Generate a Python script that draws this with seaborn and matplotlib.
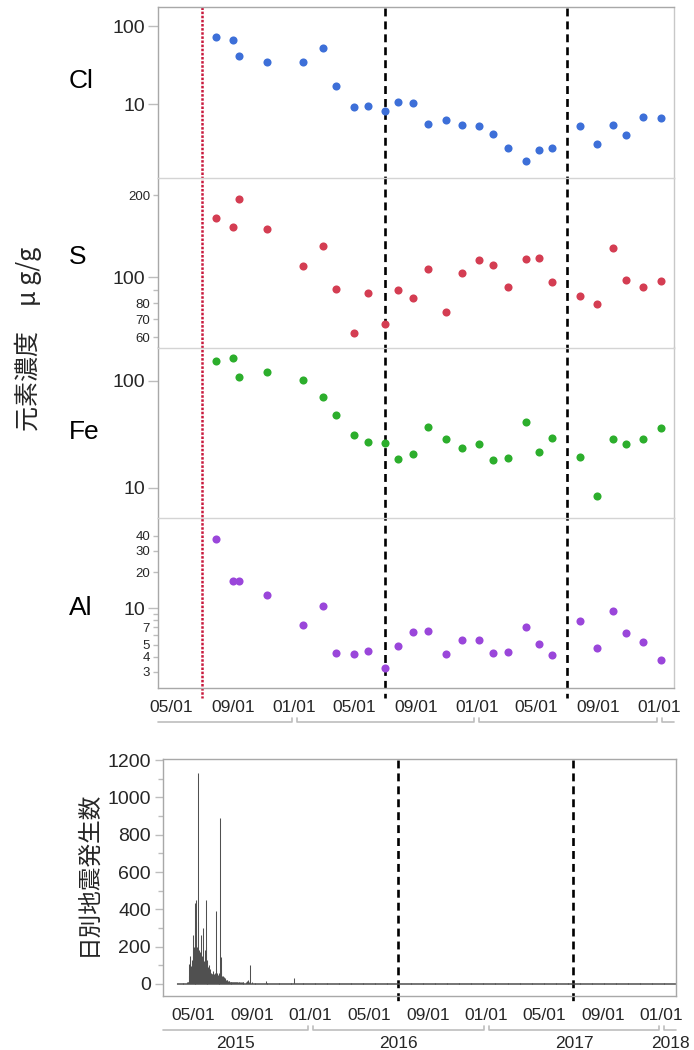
import matplotlib
matplotlib.use("Agg")
import matplotlib.pyplot as plt
import matplotlib.dates as mdates
import matplotlib.ticker as mticker
from matplotlib.lines import Line2D
from matplotlib.transforms import blended_transform_factory
import pandas as pd
import seaborn as sns

# ---------------------------------------------------------------
# Data
# ---------------------------------------------------------------
sample_dates = [
    "2015-07-28", "2015-08-31", "2015-09-12", "2015-11-08", "2016-01-19",
    "2016-02-29", "2016-03-26", "2016-04-30", "2016-05-28", "2016-07-01",
    "2016-07-28", "2016-08-26", "2016-09-25", "2016-11-01", "2016-12-02",
    "2017-01-05", "2017-02-03", "2017-03-04", "2017-04-09", "2017-05-05",
    "2017-06-01", "2017-07-27", "2017-08-29", "2017-09-30", "2017-10-26",
    "2017-11-29", "2018-01-04",
]
cl = [73, 66.7, 42, 34.3, 35.2, 51.8, 17, 9.1, 9.5, 8.3, 10.6, 10.5, 5.66,
      6.37, 5.5, 5.27, 4.12, 2.78, 1.90, 2.57, 2.73, 5.33, 3.1, 5.39, 4.04,
      6.95, 6.67]
s = [165, 153, 194, 151, 110, 130, 90.5, 62, 87.3, 67.2, 90, 83.8, 107.5,
     74.5, 103.8, 115.6, 110.8, 91.6, 116.3, 117.4, 95.6, 85, 79.4, 127.8,
     97.5, 91.8, 97]
fe = [153, 163, 109, 119, 101, 70.7, 47.7, 31.2, 27, 26, 18.4, 20.6, 37.2,
      28.6, 23.7, 25.5, 18.1, 19.2, 40.7, 21.6, 29.4, 19.4, 8.5, 28.8, 25.8,
      28.6, 36.3]
al = [37.4, 17, 17, 13, 7.26, 10.4, 4.3, 4.19, 4.47, 3.24, 4.85, 6.4, 6.5,
      4.22, 5.44, 5.44, 4.27, 4.36, 7.08, 5.04, 4.11, 7.9, 4.67, 9.57, 6.27,
      5.31, 3.78]

# daily earthquake counts during the 2015 swarm, starting 2015-03-28
swarm_start = "2015-03-28"
swarm_counts = [
    # Mar 28-31
    2, 3, 2, 3,
    # Apr 1-30
    3, 2, 4, 3, 2, 5, 3, 4, 2, 3, 4, 3, 5, 4, 3, 6, 4, 5, 8, 10,
    8, 40, 105, 148, 70, 95, 60, 130, 110, 262,
    # May 1-31
    180, 150, 200, 431, 300, 160, 449, 250, 180, 200, 1130, 333, 180, 150,
    170, 130, 262, 120, 140, 150, 110, 300, 120, 100, 90, 180, 449, 200,
    130, 100, 120,
    # Jun 1-30
    90, 80, 70, 100, 60, 80, 50, 60, 55, 50, 70, 60, 50, 45, 55, 60, 80,
    390, 60, 50, 45, 40, 45, 50, 60, 70, 890, 145, 75, 40,
    # Jul 1-31
    30, 40, 25, 35, 20, 30, 25, 20, 15, 18, 20, 15, 12, 15, 14, 12, 10, 12,
    10, 11, 10, 9, 8, 10, 8, 9, 8, 7, 8, 9, 7,
    # Aug 1-31
    8, 7, 6, 8, 7, 6, 12, 8, 6, 7, 5, 6, 7, 8, 6, 5, 6, 5, 7, 6, 8, 15, 20,
    12, 8, 6, 5, 100, 5, 6, 5,
    # Sep 1-15
    8, 6, 5, 4, 5, 6, 4, 5, 4, 5, 4, 3, 5, 4, 4,
]
# typical daily count per month after the swarm (2015-09-16 .. 2018-01-31)
quiet_months = pd.period_range("2015-09", "2018-01", freq="M").astype(str).tolist()
quiet_level = [5, 5, 4, 4, 5, 4, 4, 4, 3, 4, 3, 3, 3, 3, 3, 4, 4, 4, 5, 5,
               4, 3, 3, 3, 3, 3, 3, 3, 3]
quake_spike_dates = ["2015-09-30", "2015-11-28"]
quake_spike_counts = [15, 30]

event_dates = ["2016-07-01", "2017-07-01"]
eruption_date = "2015-07-01"

# ---------------------------------------------------------------
# Build tables
# ---------------------------------------------------------------
samples = pd.DataFrame({"date": pd.to_datetime(sample_dates),
                        "Cl": cl, "S": s, "Fe": fe, "Al": al})

days = pd.date_range(swarm_start, periods=len(swarm_counts), freq="D")
quake = pd.Series(swarm_counts, index=days, dtype=float)
for m, lvl in zip(quiet_months, quiet_level):
    rng = pd.date_range(pd.Period(m).start_time, pd.Period(m).end_time.normalize(), freq="D")
    rng = rng[rng > quake.index.max()]
    quake = pd.concat([quake, pd.Series(float(lvl), index=rng)])
for d, c in zip(quake_spike_dates, quake_spike_counts):
    quake[pd.Timestamp(d)] = c
quake = quake.sort_index()

# ---------------------------------------------------------------
# Style
# ---------------------------------------------------------------
sns.set_style("white")
plt.rcParams["font.family"] = ["Liberation Sans", "Noto Sans CJK JP", "DejaVu Sans"]
JP = ["Noto Sans CJK JP", "DejaVu Sans"]
FRAME = "#a8a8a8"
SEP = "#d4d4d4"

W, H = 694, 1050
fig = plt.figure(figsize=(W / 100, H / 100), dpi=100)


def px_axes(l, t, r, b):
    ax = fig.add_axes([l / W, 1 - b / H, (r - l) / W, (b - t) / H])
    ax.set_facecolor("none")
    return ax


def date_ticks(ax):
    ticks = pd.to_datetime(["2015-05-01", "2015-09-01", "2016-01-01", "2016-05-01",
                            "2016-09-01", "2017-01-01", "2017-05-01", "2017-09-01",
                            "2018-01-01"])
    ax.set_xticks(ticks)
    ax.xaxis.set_major_formatter(mdates.DateFormatter("%m/%d"))
    ax.tick_params(axis="x", length=6, width=1, color="#bdbdbd", labelsize=12.5, pad=3)


def year_brackets(ax, y_px, xlim, label_y_px=None):
    tr = blended_transform_factory(ax.transData, fig.transFigure)
    gap = 2.5 / (ax.bbox.width / (mdates.date2num(xlim[1]) - mdates.date2num(xlim[0])))
    hook = 4 / H
    y = 1 - y_px / H
    for yr in [2015, 2016, 2017, 2018]:
        a = pd.Timestamp(f"{yr}-01-01")
        b = pd.Timestamp(f"{yr + 1}-01-01")
        x0 = mdates.date2num(max(a, xlim[0]))
        x1 = mdates.date2num(min(b, xlim[1]))
        xs, ys = [], []
        if a > xlim[0]:
            x0 += gap
            xs += [x0]
            ys += [y + hook]
        xs += [x0]
        ys += [y]
        if b < xlim[1]:
            x1 -= gap
            xs += [x1, x1]
            ys += [y, y + hook]
        else:
            xs += [x1]
            ys += [y]
        fig.add_artist(Line2D(xs, ys, transform=tr, color="#bdbdbd", lw=1.2))
        if label_y_px is not None:
            fig.text((x0 + x1) / 2, 1 - label_y_px / H, str(yr), transform=tr,
                     ha="center", va="center", fontsize=12.5)


# ---------------------------------------------------------------
# Upper panel: element concentrations
# ---------------------------------------------------------------
elements = ["Cl", "S", "Fe", "Al"]
colors = {"Cl": "#3d6fd8", "S": "#d43d52", "Fe": "#2cae2c", "Al": "#9a46da"}
bounds = [(7, 177.5), (177.5, 347.5), (347.5, 518), (518, 688)]
ylims = {"Cl": (1.16, 175), "S": (55, 233), "Fe": (5.25, 203), "Al": (2.2, 56)}
major = {"Cl": [10, 100], "S": [100], "Fe": [10, 100], "Al": [10]}
minor_lab = {"Cl": [], "S": [60, 70, 80, 200], "Fe": [], "Al": [3, 4, 5, 7, 20, 30, 40]}
minor_nolab = {"Cl": [], "S": [90], "Fe": [], "Al": [6, 8, 9]}
label_y = {"Cl": 81, "S": 257, "Fe": 432, "Al": 608}

top_xlim = (pd.Timestamp("2015-04-03"), pd.Timestamp("2018-01-31"))
axes = []
for i, el in enumerate(elements):
    t, b = bounds[i]
    ax = px_axes(157.7, t, 674, b)
    sns.scatterplot(data=samples, x="date", y=el, color=colors[el], s=34,
                    linewidth=0, ax=ax, zorder=3)
    ax.set_yscale("log")
    ax.set_ylim(*ylims[el])
    ax.set_xlim(*top_xlim)
    ax.set_xlabel("")
    ax.set_ylabel("")
    ax.yaxis.set_major_locator(mticker.FixedLocator(major[el]))
    ax.yaxis.set_major_formatter(mticker.FixedFormatter([str(v) for v in major[el]]))
    mins = sorted(minor_lab[el] + minor_nolab[el])
    ax.yaxis.set_minor_locator(mticker.FixedLocator(mins))
    ax.yaxis.set_minor_formatter(mticker.FixedFormatter(
        [str(v) if v in minor_lab[el] else "" for v in mins]))
    ax.tick_params(axis="y", which="major", left=True, length=7, width=1,
                   color="#bdbdbd", labelsize=14, pad=2)
    ax.tick_params(axis="y", which="minor", left=True, length=3.5, width=1,
                   color="#bdbdbd", labelsize=9.5, pad=2)
    for side in ["left", "right", "top", "bottom"]:
        ax.spines[side].set_linewidth(1)
    ax.spines["left"].set_color(FRAME)
    ax.spines["right"].set_color("#c8c8c8")
    ax.spines["top"].set_color(FRAME if i == 0 else SEP)
    ax.spines["bottom"].set_color(FRAME if i == 3 else SEP)
    ax.spines["bottom"].set_visible(i == 3)
    if i < 3:
        ax.tick_params(axis="x", bottom=False, labelbottom=False)
    else:
        date_ticks(ax)
    fig.text(69 / W, 1 - label_y[el] / H, el, fontsize=19, ha="left",
             va="center", color="black")
    axes.append(ax)

ax_al = axes[-1]
tr_top = blended_transform_factory(ax_al.transData, fig.transFigure)
for d in event_dates:
    x = mdates.date2num(pd.Timestamp(d))
    fig.add_artist(Line2D([x, x], [1 - 8 / H, 1 - 698 / H], transform=tr_top,
                          color="black", lw=1.9, linestyle=(0, (3.0, 1.9)), zorder=-1))
xe = mdates.date2num(pd.Timestamp(eruption_date))
fig.add_artist(Line2D([xe, xe], [1 - 7 / H, 1 - 698 / H], transform=tr_top,
                      color="#c8193c", lw=1.8, linestyle=(0, (1.0, 0.65)), zorder=-1))
year_brackets(ax_al, 722, top_xlim)

fig.text(28 / W, 1 - 339 / H, "元素濃度　μ g/g", rotation=90, fontsize=18,
         ha="center", va="center", family=JP)

# ---------------------------------------------------------------
# Lower panel: daily earthquake counts
# ---------------------------------------------------------------
bot_xlim = (pd.Timestamp("2015-02-28"), pd.Timestamp("2018-01-31"))
axq = px_axes(163.3, 759.3, 676, 995.7)
axq.vlines(quake.index, 0, quake.values, colors="#505050", linewidth=0.75)
axq.set_xlim(*bot_xlim)
axq.set_ylim(-64, 1205)
axq.yaxis.set_major_locator(mticker.MultipleLocator(200))
axq.yaxis.set_minor_locator(mticker.MultipleLocator(100))
axq.tick_params(axis="y", which="major", left=True, length=6, width=1,
                color="#bdbdbd", labelsize=14, pad=3)
axq.tick_params(axis="y", which="minor", left=True, length=3.5, width=1,
                color="#bdbdbd")
for side in ["left", "right", "top", "bottom"]:
    axq.spines[side].set_color(FRAME)
    axq.spines[side].set_linewidth(1)
date_ticks(axq)
tr_bot = blended_transform_factory(axq.transData, fig.transFigure)
for d in event_dates:
    x = mdates.date2num(pd.Timestamp(d))
    fig.add_artist(Line2D([x, x], [1 - 760 / H, 1 - 1003 / H], transform=tr_bot,
                          color="black", lw=1.9, linestyle=(0, (3.0, 1.9)), zorder=-1))
year_brackets(axq, 1030, bot_xlim, label_y_px=1043)

fig.text(88 / W, 1 - 873 / H, "日別地震発生数", rotation=90, fontsize=17,
         ha="center", va="center", family=JP)

fig.savefig("out.png", dpi=100, facecolor="white")
